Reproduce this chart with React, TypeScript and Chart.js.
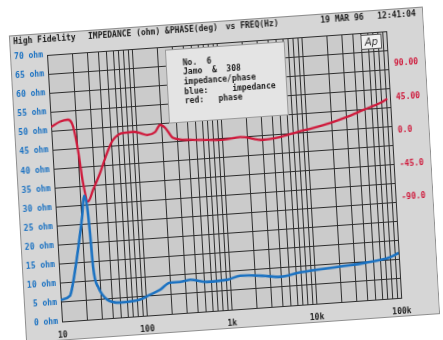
import { useEffect, useRef } from "react";
import { Chart, registerables } from "chart.js";

Chart.register(...registerables);

// Impedance magnitude sweep (blue trace, left axis)
const impFreqHz = [10, 12.9, 14.3, 17.2, 20.2, 22.0, 23.5, 24.4, 25.2, 28.0, 35, 49.5, 85.5, 113, 149, 198, 259, 342, 540, 931, 1330, 2420, 3930, 6800, 20200, 40000, 79000, 100000];
const impedanceOhm = [5.7, 6.6, 9.9, 18.5, 27.0, 32.5, 29.5, 22.7, 13.7, 8.4, 4.9, 3.9, 4.3, 5.4, 6.5, 8.2, 8.2, 8.6, 7.7, 7.9, 8.7, 8.3, 7.7, 8.5, 9.3, 9.8, 10.8, 11.8];

// Impedance phase sweep (red trace, right axis)
const phaseFreqHz = [10, 12.8, 15.9, 18.2, 20.0, 21.8, 24.3, 28.3, 35.2, 43.7, 52.5, 69.5, 91.4, 110, 133, 166, 192, 219, 267, 423, 670, 1030, 1640, 3050, 4860, 7800, 12100, 19300, 30800, 48000, 77000, 93000];
const phaseDeg = [37.7, 44, 46, 36, 4.3, -40.4, -66, -50.8, -28.5, -2.4, 14.7, 23, 23.4, 21.3, 18, 21.3, 30.2, 25.8, 11.5, 7.3, 5.7, 4.3, 6.5, 0.5, 2.8, 7.9, 11.8, 16.9, 23.5, 31.4, 39.2, 43.9];

// Axis ticks and labels
const ohmTicks = [0, 5, 10, 15, 20, 25, 30, 35, 40, 45, 50, 55, 60, 65, 70];
const phaseTicks = [90, 45, 0, -45, -90];
const phaseTickLabels = ["90.00", "45.00", "0.0", "-45.0", "-90.0"];
const freqDecades = [10, 100, 1000, 10000, 100000];
const freqDecadeLabels = ["10", "100", "1k", "10k", "100k"];

// Header and annotation text
const titleLeft = "High Fidelity";
const titleMain = "IMPEDANCE (ohm) &PHASE(deg)";
const titleVs = "vs FREQ(Hz)";
const titleDate = "19 MAR 96";
const titleTime = "12:41:04";
const noteLines = ["No.  6", "Jamo  &  308", "impedance/phase", "blue:     impedance", "red:   phase"];

const BLUE = "#1b72c2";
const RED = "#cf1a3c";
const INK = "#1c1c1c";
const GRID = "#2e2e2e";
const PAPER = "#d6d6d6";
const PLOT_BG = "#cbcbcb";
const MONO = "'DejaVu Sans Mono', monospace";

const CANVAS_W = 415;
const CANVAS_H = 308;

// log grid: 1..9 in every decade from 10 Hz to 100 kHz
const freqGrid: number[] = [];
for (let d = 10; d < 100000; d *= 10) {
  for (let m = 1; m <= 9; m++) freqGrid.push(d * m);
}
freqGrid.push(100000);

const paperPlugin = {
  id: "paper",
  beforeDraw(chart: any) {
    const { ctx, chartArea: a } = chart;
    ctx.save();
    ctx.fillStyle = PAPER;
    ctx.fillRect(0, 0, CANVAS_W, CANVAS_H);
    ctx.strokeStyle = "#8f8f8f";
    ctx.lineWidth = 1;
    ctx.strokeRect(0.5, 0.5, CANVAS_W - 1, CANVAS_H - 1);
    ctx.fillStyle = PLOT_BG;
    ctx.fillRect(a.left, a.top, a.right - a.left, a.bottom - a.top);
    ctx.restore();
  },
  beforeDatasetsDraw(chart: any) {
    const { ctx, chartArea: a } = chart;
    ctx.save();
    // note box
    ctx.fillStyle = "#e4e4e4";
    ctx.fillRect(a.left + 118, a.top + 3, 120, 74);
    ctx.strokeStyle = "#9a9a9a";
    ctx.lineWidth = 1;
    ctx.strokeRect(a.left + 118.5, a.top + 3.5, 119, 73);
    ctx.fillStyle = INK;
    ctx.font = `bold 8px ${MONO}`;
    ctx.textBaseline = "middle";
    ctx.textAlign = "left";
    noteLines.forEach((t, i) => ctx.fillText(t, a.left + 135, a.top + 17.5 + i * 9.7));
    // Ap logo
    ctx.fillStyle = "#f2f2f2";
    ctx.fillRect(a.left + 314, a.top + 2, 21, 15);
    ctx.strokeStyle = "#555";
    ctx.strokeRect(a.left + 314.5, a.top + 2.5, 20, 14);
    ctx.fillStyle = "#333";
    ctx.font = `italic 10px 'DejaVu Sans', sans-serif`;
    ctx.textAlign = "center";
    ctx.fillText("Ap", a.left + 324.5, a.top + 10);
    ctx.restore();
  },
  afterDraw(chart: any) {
    const { ctx } = chart;
    ctx.save();
    ctx.fillStyle = INK;
    ctx.font = `bold 8px ${MONO}`;
    ctx.textBaseline = "middle";
    ctx.textAlign = "left";
    ctx.fillText(titleLeft, 4, 7);
    ctx.fillText(titleMain, 79, 7);
    ctx.fillText(titleVs, 217, 7);
    ctx.fillText(titleDate, 312, 7);
    ctx.fillText(titleTime, 369, 7);
    ctx.restore();
  },
};

export default function App() {
  const canvasRef = useRef<HTMLCanvasElement>(null);

  useEffect(() => {
    const canvas = canvasRef.current;
    if (!canvas) return;
    const tickFont = { family: MONO, size: 8, weight: "bold" as const };
    const chart = new Chart(canvas, {
      type: "line",
      data: {
        datasets: [
          {
            label: "impedance",
            data: impFreqHz.map((x, i) => ({ x, y: impedanceOhm[i] })),
            yAxisID: "y",
            borderColor: BLUE,
            borderWidth: 2.6,
            pointRadius: 0,
            cubicInterpolationMode: "monotone",
            fill: false,
          },
          {
            label: "phase",
            data: phaseFreqHz.map((x, i) => ({ x, y: phaseDeg[i] })),
            yAxisID: "y1",
            borderColor: RED,
            borderWidth: 2.3,
            pointRadius: 0,
            cubicInterpolationMode: "monotone",
            fill: false,
          },
        ],
      },
      options: {
        responsive: false,
        animation: false,
        devicePixelRatio: 1,
        layout: { padding: { top: 22, left: 0, right: 0, bottom: 0 } },
        plugins: { legend: { display: false }, tooltip: { enabled: false } },
        scales: {
          x: {
            type: "logarithmic",
            min: 10,
            max: 100000,
            afterBuildTicks: (s: any) => {
              s.ticks = freqGrid.map((v) => ({ value: v }));
            },
            afterFit: (s: any) => {
              s.height = 19;
            },
            ticks: {
              autoSkip: false,
              maxRotation: 0,
              padding: 9,
              color: INK,
              font: tickFont,
              callback: (v: any) => {
                const i = freqDecades.indexOf(Number(v));
                return i >= 0 ? freqDecadeLabels[i] : "";
              },
            },
            grid: { color: GRID, lineWidth: 1, drawTicks: false },
            border: { color: GRID, width: 1 },
          },
          y: {
            position: "left",
            min: 0,
            max: 70,
            afterBuildTicks: (s: any) => {
              s.ticks = ohmTicks.map((v) => ({ value: v }));
            },
            afterFit: (s: any) => {
              s.width = 37;
            },
            ticks: {
              padding: 4,
              color: BLUE,
              font: tickFont,
              callback: (v: any) => `${v} ohm`,
            },
            grid: { color: GRID, lineWidth: 1, drawTicks: false },
            border: { color: GRID, width: 1 },
          },
          y1: {
            position: "right",
            min: -225,
            max: 135,
            afterBuildTicks: (s: any) => {
              s.ticks = phaseTicks.map((v) => ({ value: v }));
            },
            afterFit: (s: any) => {
              s.width = 38;
            },
            ticks: {
              padding: 6,
              color: RED,
              font: tickFont,
              callback: (v: any) => {
                const i = phaseTicks.indexOf(Number(v));
                return i >= 0 ? phaseTickLabels[i] : "";
              },
            },
            grid: { display: false, drawTicks: false },
            border: { display: false },
          },
        },
      },
      plugins: [paperPlugin],
    });
    return () => chart.destroy();
  }, []);

  return (
    <div
      style={{
        position: "fixed",
        left: 0,
        top: 0,
        width: CANVAS_W,
        height: CANVAS_H,
        transformOrigin: "0 0",
        transform: "matrix(0.997, -0.0698, 0.0562, 1, 8.87, 35.58)",
      }}
    >
      <canvas ref={canvasRef} width={CANVAS_W} height={CANVAS_H} style={{ display: "block" }} />
    </div>
  );
}
